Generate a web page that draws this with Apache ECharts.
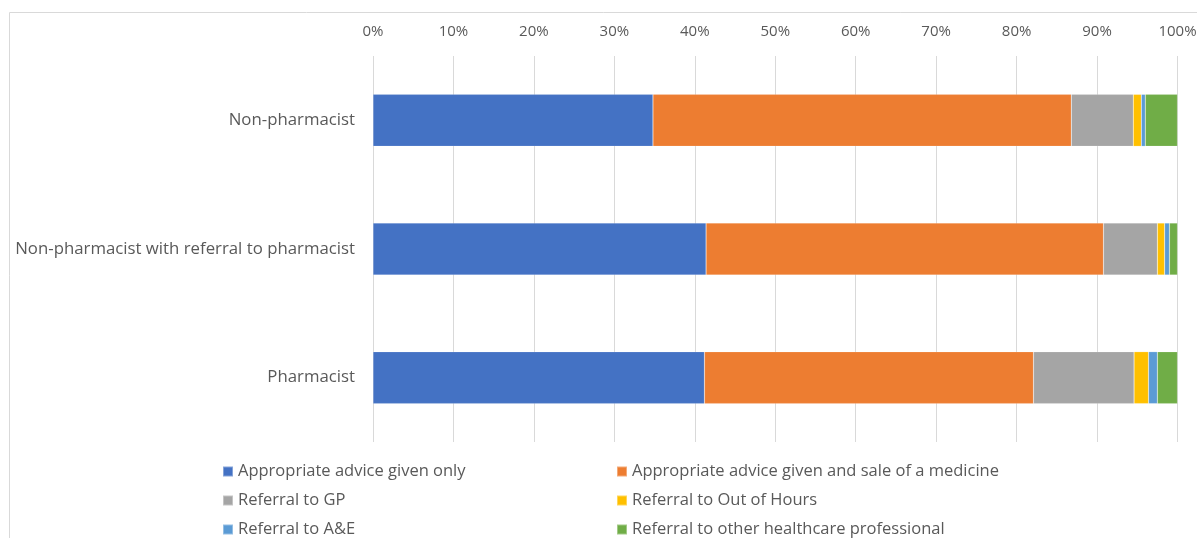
<!DOCTYPE html>
<html><head><meta charset="utf-8">
<script src="https://cdn.jsdelivr.net/npm/echarts@6/dist/echarts.min.js"></script>
<style>html,body{margin:0;padding:0;background:#fff}#c{width:1197px;height:538px}</style>
</head><body><div id="c"></div>
<script>
const categories = ["Non-pharmacist", "Non-pharmacist with referral to pharmacist", "Pharmacist"];
const seriesNames = ["Appropriate advice given only", "Appropriate advice given and sale of a medicine", "Referral to GP", "Referral to Out of Hours", "Referral to A&E", "Referral to other healthcare professional"];
const adviceOnly = [34.8, 41.4, 41.2];
const adviceSale = [52.0, 49.4, 40.9];
const referralGP = [7.7, 6.7, 12.5];
const referralOOH = [1.0, 0.9, 1.8];
const referralAE = [0.5, 0.6, 1.1];
const referralOther = [4.0, 1.0, 2.5];
const colors = ["#4472C4", "#ED7D31", "#A5A5A5", "#FFC000", "#5B9BD5", "#70AD47"];
const values = [adviceOnly, adviceSale, referralGP, referralOOH, referralAE, referralOther];

const chart = echarts.init(document.getElementById('c'), null, {renderer: 'canvas'});
const font = "Open Sans";
const legendCommon = {orient: 'vertical', top: 458, height: 100, itemWidth: 10, itemHeight: 10, itemGap: 12, icon: 'rect', textStyle: {color: '#595959', fontSize: 16.5, fontFamily: font}};
chart.setOption({
  animation: false,
  textStyle: {fontFamily: font},
  graphic: [{type: 'rect', shape: {x: 9.5, y: 12.5, width: 1300, height: 600}, style: {fill: 'none', stroke: '#d9d9d9', lineWidth: 1}, silent: true}],
  grid: {left: 373, right: 19.5, top: 56, bottom: 96, outerBoundsMode: 'none', containLabel: false},
  xAxis: {
    type: 'value', position: 'top', min: 0, max: 100, interval: 10,
    axisLabel: {formatter: '{value}%', color: '#595959', fontSize: 15, margin: 17},
    splitLine: {lineStyle: {color: '#d9d9d9', width: 1}},
    axisLine: {show: false}, axisTick: {show: false}
  },
  yAxis: {
    type: 'category', data: categories, inverse: true,
    axisLabel: {color: '#595959', fontSize: 16.8, margin: 18},
    axisLine: {show: false}, axisTick: {show: false}
  },
  legend: [
    Object.assign({data: [seriesNames[0], seriesNames[2], seriesNames[4]], left: 217}, legendCommon),
    Object.assign({data: [seriesNames[1], seriesNames[3], seriesNames[5]], left: 611}, legendCommon)
  ],
  series: seriesNames.map((n, i) => ({
    name: n, type: 'bar', stack: 'total', data: values[i], barWidth: 52,
    itemStyle: {color: colors[i], borderColor: 'rgba(255,255,255,0.35)', borderWidth: 0.5}
  }))
});
</script></body></html>
